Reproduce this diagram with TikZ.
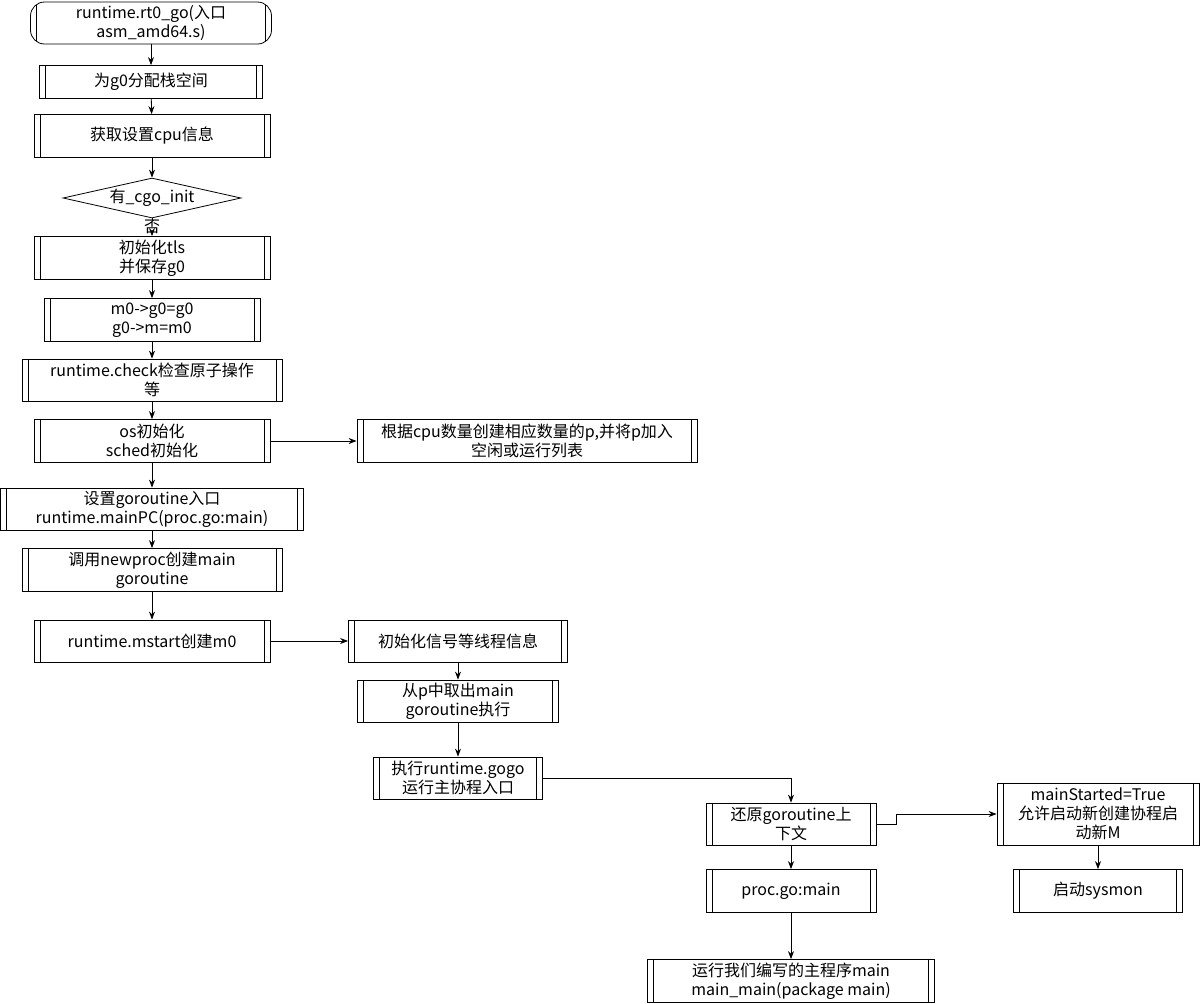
\documentclass[tikz,border=0pt]{standalone}
\usepackage{fontspec}
\setmainfont{Noto Sans CJK SC}
\usetikzlibrary{shapes.geometric, arrows.meta}

\tikzset{
  proc/.style={draw, align=center, inner sep=1pt, font=\fontsize{8}{9.5}\selectfont,
    path picture={
      \draw ([xshift=3pt]path picture bounding box.north west) -- ([xshift=3pt]path picture bounding box.south west);
      \draw ([xshift=-3pt]path picture bounding box.north east) -- ([xshift=-3pt]path picture bounding box.south east);}},
  startbox/.style={proc, rounded corners=7pt},
  decide/.style={draw, diamond, aspect=4.45, inner sep=0pt, font=\fontsize{8}{9.5}\selectfont},
  link/.style={-{Stealth[length=4pt,width=3pt]}}
}

\begin{document}
\begin{tikzpicture}[x=0.5pt, y=-0.5pt]
\useasboundingbox (0,0) rectangle (1200,1003);
\node[startbox, minimum width=120.5pt, minimum height=21pt] (rt0) at (151,23) {runtime.rt0\_go(入口\\asm\_amd64.s)};
\node[proc, minimum width=111.5pt, minimum height=16.5pt] (stack) at (151,82) {为g0分配栈空间};
\node[proc, minimum width=118pt, minimum height=21.5pt] (cpu) at (152,136) {获取设置cpu信息};
\node[decide, minimum width=89pt, minimum height=20pt] (cgo) at (152,198) {有\_cgo\_init};
\node[font=\fontsize{8}{9.5}\selectfont, inner sep=0pt] (no) at (152,227) {否};
\node[proc, minimum width=118pt, minimum height=21.5pt] (tls) at (152,258) {初始化tls\\并保存g0};
\node[proc, minimum width=108pt, minimum height=21.5pt] (m0) at (152,320) {m0->g0=g0\\g0->m=m0};
\node[proc, minimum width=130pt, minimum height=21pt] (check) at (152,380) {runtime.check检查原子操作\\等};
\node[proc, minimum width=118pt, minimum height=21.5pt] (osinit) at (152,441) {os初始化\\sched初始化};
\node[proc, minimum width=170pt, minimum height=21.5pt] (plist) at (527,441) {根据cpu数量创建相应数量的p,并将p加入\\空闲或运行列表};
\node[proc, minimum width=151.5pt, minimum height=21pt] (entry) at (152,509) {设置goroutine入口\\runtime.mainPC(proc.go:main)};
\node[proc, minimum width=130pt, minimum height=21.5pt] (newproc) at (152,570) {调用newproc创建main\\goroutine};
\node[proc, minimum width=118pt, minimum height=21pt] (mstart) at (152,641) {runtime.mstart创建m0};
\node[proc, minimum width=109.5pt, minimum height=21pt] (signal) at (458,641) {初始化信号等线程信息};
\node[proc, minimum width=100.5pt, minimum height=21pt] (takep) at (458,701) {从p中取出main\\goroutine执行};
\node[proc, minimum width=84.5pt, minimum height=21pt] (gogo) at (458,778) {执行runtime.gogo\\运行主协程入口};
\node[proc, minimum width=85pt, minimum height=21pt] (restore) at (791,824) {还原goroutine上\\下文};
\node[proc, minimum width=101pt, minimum height=31pt] (started) at (1098,814) {mainStarted=True\\允许启动新创建协程启\\动新M};
\node[proc, minimum width=84.5pt, minimum height=21.5pt] (sysmon) at (1098,891) {启动sysmon};
\node[proc, minimum width=85pt, minimum height=21.5pt] (procmain) at (791,891) {proc.go:main};
\node[proc, minimum width=143.5pt, minimum height=21.5pt] (usermain) at (791,981) {运行我们编写的主程序main\\main\_main(package main)};

\draw[link] (rt0) -- (stack);
\draw[link] (stack) -- (cpu);
\draw[link] (cpu) -- (cgo);
\draw (cgo) -- (no);
\draw[link] (no) -- (tls);
\draw[link] (tls) -- (m0);
\draw[link] (m0) -- (check);
\draw[link] (check) -- (osinit);
\draw[link] (osinit) -- (plist);
\draw[link] (osinit) -- (entry);
\draw[link] (entry) -- (newproc);
\draw[link] (newproc) -- (mstart);
\draw[link] (mstart) -- (signal);
\draw[link] (signal) -- (takep);
\draw[link] (takep) -- (gogo);
\draw[link] (gogo.east) -| (restore.north);
\draw[link] (restore.east) -- ++(20,0) |- (started.west);
\draw[link] (started) -- (sysmon);
\draw[link] (restore) -- (procmain);
\draw[link] (procmain) -- (usermain);
\end{tikzpicture}
\end{document}
